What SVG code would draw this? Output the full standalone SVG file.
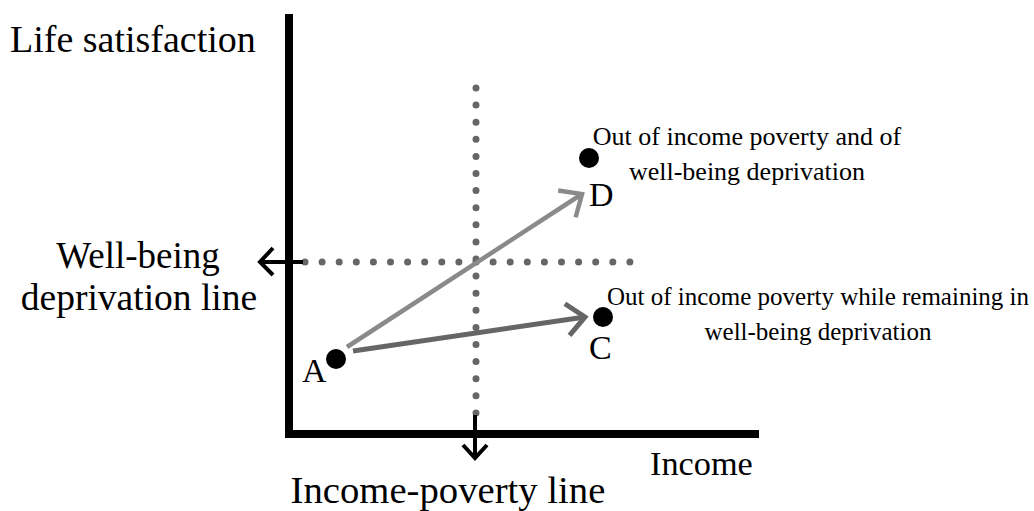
<svg xmlns="http://www.w3.org/2000/svg" width="1034" height="511" viewBox="0 0 1034 511">
<style>
text{font-family:"Liberation Serif","Times New Roman",serif;fill:#000}
.big{font-size:38px}
.lbl{font-size:34px}
.axis{stroke:#000;stroke-width:8;fill:none}
.thin{stroke:#000;stroke-width:4;fill:none}
.dots{stroke:#666;stroke-width:7;stroke-linecap:round;stroke-dasharray:0 17.1;fill:none}
.pt{fill:#000}
</style>
<defs>
<marker id="hLight" markerUnits="userSpaceOnUse" markerWidth="40" markerHeight="40" refX="0" refY="0" viewBox="-22 -20 30 40" orient="auto">
<path d="M-18,-16 L0,0 L-18,16" fill="none" stroke="#8a8a8a" stroke-width="4.5"/>
</marker>
<marker id="hDark" markerUnits="userSpaceOnUse" markerWidth="40" markerHeight="40" refX="0" refY="0" viewBox="-22 -20 30 40" orient="auto">
<path d="M-18,-16 L0,0 L-18,16" fill="none" stroke="#666" stroke-width="5"/>
</marker>
</defs>
<g id="axes">
<line class="axis" x1="289" y1="14" x2="289" y2="438"/>
<line class="axis" x1="285" y1="434" x2="759" y2="434"/>
<text class="big" x="10" y="52">Life satisfaction</text>
<text x="650" y="475" style="font-size:34.3px">Income</text>
</g>
<g id="wellbeing-line">
<line class="dots" x1="305" y1="262" x2="633" y2="262"/>
<line class="thin" x1="303" y1="262" x2="260" y2="262"/>
<polyline class="thin" points="273,248 260,262 273,275"/>
<text x="138" y="268" text-anchor="middle" style="font-size:37px">Well-being</text>
<text x="139" y="310" text-anchor="middle" style="font-size:37.5px">deprivation line</text>
</g>
<g id="poverty-line">
<line class="dots" x1="476" y1="88" x2="476" y2="416"/>
<line class="thin" x1="475" y1="415" x2="475" y2="457"/>
<polyline class="thin" points="463,445 475,458 487,445"/>
<text x="448" y="503" text-anchor="middle" style="font-size:38.7px">Income-poverty line</text>
</g>
<g id="node-A">
<circle class="pt" cx="336" cy="359" r="10"/>
<text class="lbl" x="302" y="382">A</text>
</g>
<g id="node-C">
<circle class="pt" cx="603" cy="317" r="10"/>
<text class="lbl" x="589" y="359">C</text>
<text x="818" y="305" text-anchor="middle" style="font-size:25px">Out of income poverty while remaining in</text>
<text x="818" y="340" text-anchor="middle" style="font-size:25px">well-being deprivation</text>
</g>
<g id="node-D">
<circle class="pt" cx="589" cy="158" r="10"/>
<text class="lbl" x="589" y="206">D</text>
<text x="747" y="145" text-anchor="middle" style="font-size:26px">Out of income poverty and of</text>
<text x="747" y="180" text-anchor="middle" style="font-size:26px">well-being deprivation</text>
</g>
<g id="connectors">
<line x1="347" y1="347" x2="582" y2="194" stroke="#8a8a8a" stroke-width="4.5" marker-end="url(#hLight)"/>
<line x1="353" y1="351" x2="585" y2="317" stroke="#666" stroke-width="5" marker-end="url(#hDark)"/>
</g>
</svg>
